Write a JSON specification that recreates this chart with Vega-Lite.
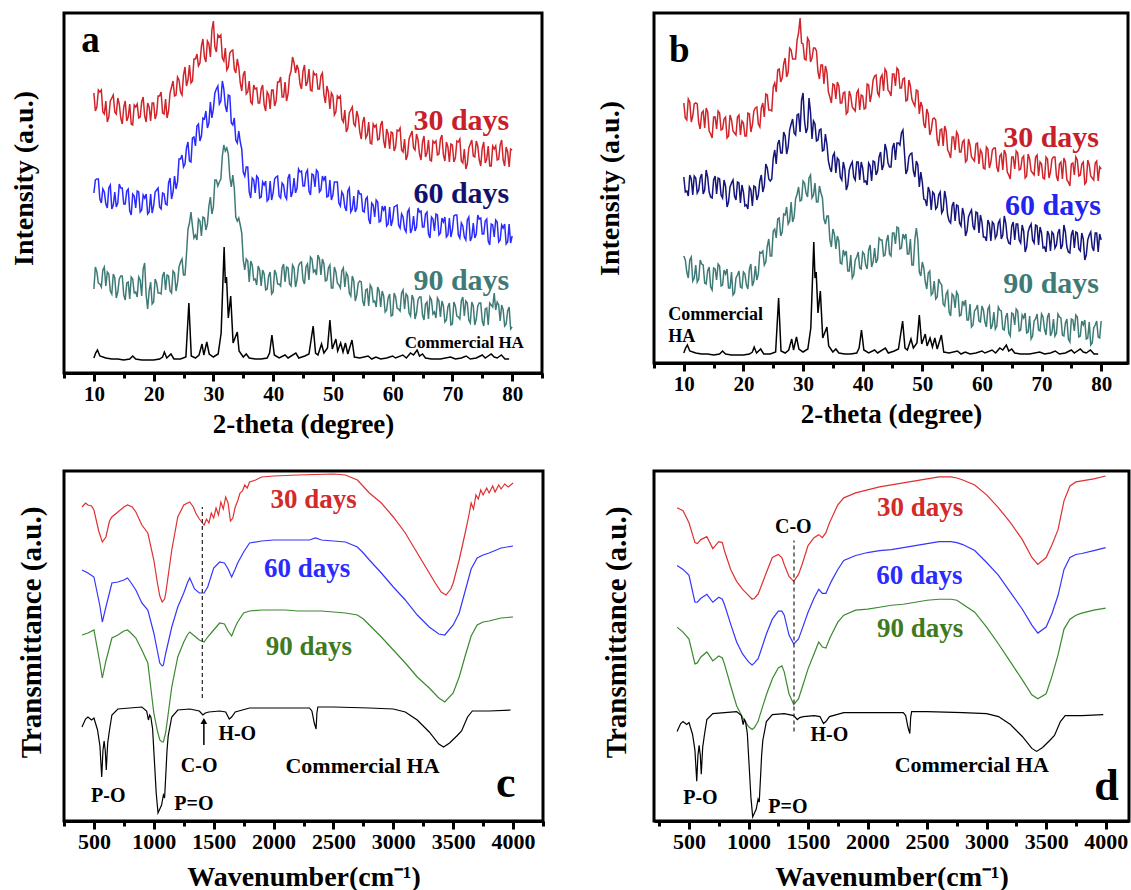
{
"$schema":"https://vega.github.io/schema/vega-lite/v6.json",
"background":"white",
"padding":{"left":8,"top":11,"right":0,"bottom":0},
"config":{"view":{"stroke":"black","strokeWidth":3},
"axis":{"grid":false,"labelFont":"Liberation Serif","titleFont":"Liberation Serif","labelFontWeight":"bold","titleFontWeight":"bold","labelColor":"black","titleColor":"black","domainColor":"black","tickColor":"black"},
"text":{"font":"Liberation Serif","fontWeight":"bold"}},
"datasets":{
"xrd":[
{"x":10,"a3":280,"a6":180,"a9":84,"b3":265,"b6":191,"b9":112},
{"x":10.5,"a3":266,"a6":194,"a9":101,"b3":248,"b6":177,"b9":96},
{"x":11,"a3":281,"a6":174,"a9":89,"b3":266,"b6":193,"b9":108},
{"x":11.5,"a3":261,"a6":184,"a9":103,"b3":252,"b6":173,"b9":87},
{"x":12,"a3":272,"a6":169,"a9":87,"b3":265,"b6":190,"b9":103},
{"x":12.5,"a3":256,"a6":185,"a9":99,"b3":245,"b6":178,"b9":89},
{"x":13,"a3":275,"a6":164,"a9":79,"b3":255,"b6":194,"b9":104},
{"x":13.5,"a3":261,"a6":181,"a9":95,"b3":240,"b6":178,"b9":85},
{"x":14,"a3":275,"a6":170,"a9":81,"b3":256,"b6":191,"b9":97},
{"x":14.5,"a3":255,"a6":185,"a9":97,"b3":234,"b6":171,"b9":81},
{"x":15,"a3":266,"a6":169,"a9":78,"b3":251,"b6":188,"b9":100},
{"x":15.5,"a3":252,"a6":182,"a9":90,"b3":239,"b6":174,"b9":88},
{"x":16,"a3":269,"a6":162,"a9":74,"b3":255,"b6":189,"b9":102},
{"x":16.5,"a3":248,"a6":179,"a9":94,"b3":239,"b6":170,"b9":83},
{"x":17,"a3":266,"a6":165,"a9":81,"b3":251,"b6":182,"b9":94},
{"x":17.5,"a3":255,"a6":181,"a9":96,"b3":232,"b6":166,"b9":80},
{"x":18,"a3":271,"a6":163,"a9":77,"b3":248,"b6":185,"b9":96},
{"x":18.5,"a3":257,"a6":175,"a9":110,"b3":235,"b6":172,"b9":75},
{"x":19,"a3":270,"a6":159,"a9":64,"b3":251,"b6":186,"b9":93},
{"x":19.5,"a3":252,"a6":179,"a9":91,"b3":233,"b6":165,"b9":81},
{"x":20,"a3":270,"a6":167,"a9":71,"b3":245,"b6":176,"b9":96},
{"x":20.5,"a3":259,"a6":183,"a9":90,"b3":232,"b6":163,"b9":83},
{"x":21,"a3":277,"a6":166,"a9":80,"b3":254,"b6":181,"b9":99},
{"x":21.5,"a3":260,"a6":180,"a9":97,"b3":243,"b6":162,"b9":82},
{"x":22,"a3":274,"a6":169,"a9":83,"b3":260,"b6":181,"b9":102},
{"x":22.5,"a3":262,"a6":190,"a9":97,"b3":244,"b6":173,"b9":94},
{"x":23,"a3":286,"a6":174,"a9":80,"b3":260,"b6":193,"b9":115},
{"x":23.5,"a3":277,"a6":197,"a9":100,"b3":251,"b6":182,"b9":103},
{"x":24,"a3":296,"a6":191,"a9":90,"b3":273,"b6":200,"b9":122},
{"x":24.5,"a3":281,"a6":214,"a9":111,"b3":258,"b6":187,"b9":112},
{"x":25,"a3":298,"a6":206,"a9":98,"b3":281,"b6":210,"b9":137},
{"x":25.5,"a3":287,"a6":225,"a9":119,"b3":276,"b6":204,"b9":130},
{"x":26,"a3":308,"a6":212,"a9":150,"b3":299,"b6":228,"b9":150},
{"x":26.5,"a3":292,"a6":235,"a9":147,"b3":290,"b6":215,"b9":136},
{"x":27,"a3":314,"a6":227,"a9":138,"b3":310,"b6":232,"b9":153},
{"x":27.5,"a3":307,"a6":249,"a9":154,"b3":296,"b6":221,"b9":144},
{"x":28,"a3":327,"a6":237,"a9":137,"b3":318,"b6":244,"b9":166},
{"x":28.5,"a3":316,"a6":254,"a9":155,"b3":309,"b6":235,"b9":151},
{"x":29,"a3":332,"a6":245,"a9":149,"b3":328,"b6":253,"b9":174},
{"x":29.5,"a3":316,"a6":271,"a9":176,"b3":350,"b6":236,"b9":167},
{"x":30,"a3":352,"a6":264,"a9":166,"b3":324,"b6":275,"b9":187},
{"x":30.5,"a3":321,"a6":284,"a9":193,"b3":308,"b6":235,"b9":175},
{"x":31,"a3":336,"a6":269,"a9":191,"b3":327,"b6":270,"b9":190},
{"x":31.5,"a3":315,"a6":292,"a9":217,"b3":310,"b6":229,"b9":170},
{"x":32,"a3":325,"a6":267,"a9":222,"b3":320,"b6":244,"b9":185},
{"x":32.5,"a3":306,"a6":278,"a9":219,"b3":296,"b6":228,"b9":166},
{"x":33,"a3":322,"a6":250,"a9":186,"b3":303,"b6":239,"b9":175},
{"x":33.5,"a3":304,"a6":255,"a9":185,"b3":284,"b6":218,"b9":149},
{"x":34,"a3":314,"a6":230,"a9":152,"b3":296,"b6":224,"b9":152},
{"x":34.5,"a3":290,"a6":231,"a9":148,"b3":271,"b6":200,"b9":128},
{"x":35,"a3":298,"a6":201,"a9":113,"b3":284,"b6":212,"b9":139},
{"x":35.5,"a3":279,"a6":206,"a9":114,"b3":269,"b6":195,"b9":119},
{"x":36,"a3":292,"a6":181,"a9":91,"b3":282,"b6":208,"b9":127},
{"x":36.5,"a3":269,"a6":195,"a9":108,"b3":265,"b6":188,"b9":104},
{"x":37,"a3":284,"a6":180,"a9":94,"b3":276,"b6":199,"b9":113},
{"x":37.5,"a3":270,"a6":195,"a9":107,"b3":256,"b6":183,"b9":97},
{"x":38,"a3":284,"a6":176,"a9":87,"b3":272,"b6":203,"b9":113},
{"x":38.5,"a3":268,"a6":188,"a9":99,"b3":259,"b6":191,"b9":93},
{"x":39,"a3":281,"a6":172,"a9":84,"b3":275,"b6":206,"b9":111},
{"x":39.5,"a3":264,"a6":192,"a9":101,"b3":258,"b6":188,"b9":100},
{"x":40,"a3":283,"a6":180,"a9":81,"b3":272,"b6":200,"b9":116},
{"x":40.5,"a3":272,"a6":196,"a9":99,"b3":260,"b6":187,"b9":103},
{"x":41,"a3":291,"a6":177,"a9":89,"b3":283,"b6":205,"b9":118},
{"x":41.5,"a3":276,"a6":190,"a9":105,"b3":274,"b6":187,"b9":101},
{"x":42,"a3":291,"a6":177,"a9":91,"b3":292,"b6":206,"b9":120},
{"x":42.5,"a3":279,"a6":195,"a9":105,"b3":275,"b6":197,"b9":109},
{"x":43,"a3":302,"a6":176,"a9":87,"b3":290,"b6":216,"b9":128},
{"x":43.5,"a3":310,"a6":195,"a9":105,"b3":277,"b6":203,"b9":112},
{"x":44,"a3":308,"a6":185,"a9":93,"b3":296,"b6":218,"b9":127},
{"x":44.5,"a3":289,"a6":201,"a9":110,"b3":276,"b6":201,"b9":114},
{"x":45,"a3":302,"a6":187,"a9":93,"b3":294,"b6":220,"b9":135},
{"x":45.5,"a3":287,"a6":200,"a9":106,"b3":282,"b6":208,"b9":124},
{"x":46,"a3":304,"a6":182,"a9":93,"b3":298,"b6":225,"b9":140},
{"x":46.5,"a3":282,"a6":199,"a9":114,"b3":280,"b6":235,"b9":120},
{"x":47,"a3":298,"a6":186,"a9":103,"b3":290,"b6":216,"b9":130},
{"x":47.5,"a3":284,"a6":201,"a9":118,"b3":268,"b6":198,"b9":114},
{"x":48,"a3":297,"a6":183,"a9":98,"b3":282,"b6":214,"b9":129},
{"x":48.5,"a3":278,"a6":193,"a9":109,"b3":265,"b6":197,"b9":103},
{"x":49,"a3":287,"a6":176,"a9":93,"b3":278,"b6":207,"b9":140},
{"x":49.5,"a3":264,"a6":193,"a9":108,"b3":254,"b6":181,"b9":96},
{"x":50,"a3":277,"a6":178,"a9":85,"b3":261,"b6":186,"b9":106},
{"x":50.5,"a3":261,"a6":191,"a9":101,"b3":240,"b6":168,"b9":86},
{"x":51,"a3":275,"a6":170,"a9":88,"b3":254,"b6":181,"b9":95},
{"x":51.5,"a3":254,"a6":181,"a9":102,"b3":238,"b6":158,"b9":73},
{"x":52,"a3":263,"a6":166,"a9":86,"b3":250,"b6":174,"b9":87},
{"x":52.5,"a3":245,"a6":182,"a9":97,"b3":228,"b6":161,"b9":71},
{"x":53,"a3":263,"a6":161,"a9":77,"b3":238,"b6":176,"b9":85},
{"x":53.5,"a3":249,"a6":177,"a9":92,"b3":222,"b6":158,"b9":64},
{"x":54,"a3":262,"a6":165,"a9":78,"b3":237,"b6":169,"b9":74},
{"x":54.5,"a3":241,"a6":179,"a9":92,"b3":215,"b6":147,"b9":56},
{"x":55,"a3":251,"a6":162,"a9":72,"b3":231,"b6":162,"b9":74},
{"x":55.5,"a3":235,"a6":174,"a9":83,"b3":218,"b6":147,"b9":60},
{"x":56,"a3":251,"a6":154,"a9":67,"b3":233,"b6":162,"b9":73},
{"x":56.5,"a3":229,"a6":170,"a9":85,"b3":216,"b6":142,"b9":53},
{"x":57,"a3":246,"a6":156,"a9":72,"b3":228,"b6":153,"b9":63},
{"x":57.5,"a3":233,"a6":171,"a9":86,"b3":208,"b6":137,"b9":48},
{"x":58,"a3":248,"a6":152,"a9":66,"b3":223,"b6":155,"b9":64},
{"x":58.5,"a3":232,"a6":163,"a9":77,"b3":209,"b6":142,"b9":43},
{"x":59,"a3":244,"a6":147,"a9":63,"b3":224,"b6":156,"b9":59},
{"x":59.5,"a3":224,"a6":166,"a9":79,"b3":204,"b6":135,"b9":47},
{"x":60,"a3":240,"a6":153,"a9":58,"b3":215,"b6":146,"b9":62},
{"x":60.5,"a3":226,"a6":167,"a9":76,"b3":199,"b6":131,"b9":46},
{"x":61,"a3":242,"a6":148,"a9":64,"b3":219,"b6":148,"b9":59},
{"x":61.5,"a3":223,"a6":159,"a9":80,"b3":206,"b6":127,"b9":39},
{"x":62,"a3":234,"a6":144,"a9":64,"b3":220,"b6":144,"b9":56},
{"x":62.5,"a3":218,"a6":161,"a9":77,"b3":201,"b6":133,"b9":42},
{"x":63,"a3":238,"a6":140,"a9":57,"b3":212,"b6":148,"b9":58},
{"x":63.5,"a3":225,"a6":157,"a9":74,"b3":198,"b6":133,"b9":39},
{"x":64,"a3":239,"a6":146,"a9":60,"b3":214,"b6":145,"b9":51},
{"x":64.5,"a3":219,"a6":161,"a9":76,"b3":193,"b6":125,"b9":35},
{"x":65,"a3":231,"a6":146,"a9":58,"b3":211,"b6":142,"b9":55},
{"x":65.5,"a3":216,"a6":159,"a9":69,"b3":199,"b6":128,"b9":43},
{"x":66,"a3":233,"a6":139,"a9":54,"b3":215,"b6":144,"b9":57},
{"x":66.5,"a3":212,"a6":156,"a9":73,"b3":199,"b6":125,"b9":38},
{"x":67,"a3":230,"a6":142,"a9":61,"b3":212,"b6":137,"b9":50},
{"x":67.5,"a3":218,"a6":158,"a9":75,"b3":192,"b6":121,"b9":35},
{"x":68,"a3":234,"a6":140,"a9":56,"b3":209,"b6":141,"b9":52},
{"x":68.5,"a3":218,"a6":151,"a9":67,"b3":195,"b6":128,"b9":32},
{"x":69,"a3":231,"a6":136,"a9":53,"b3":211,"b6":143,"b9":49},
{"x":69.5,"a3":211,"a6":155,"a9":70,"b3":192,"b6":123,"b9":38},
{"x":70,"a3":228,"a6":143,"a9":49,"b3":204,"b6":135,"b9":54},
{"x":70.5,"a3":215,"a6":158,"a9":67,"b3":189,"b6":121,"b9":39},
{"x":71,"a3":231,"a6":138,"a9":56,"b3":209,"b6":137,"b9":51},
{"x":71.5,"a3":212,"a6":150,"a9":72,"b3":196,"b6":117,"b9":32},
{"x":72,"a3":224,"a6":136,"a9":57,"b3":211,"b6":134,"b9":49},
{"x":72.5,"a3":209,"a6":153,"a9":70,"b3":192,"b6":123,"b9":35},
{"x":73,"a3":229,"a6":132,"a9":50,"b3":204,"b6":139,"b9":51},
{"x":73.5,"a3":217,"a6":150,"a9":67,"b3":189,"b6":123,"b9":33},
{"x":74,"a3":232,"a6":139,"a9":54,"b3":206,"b6":136,"b9":45},
{"x":74.5,"a3":213,"a6":154,"a9":70,"b3":186,"b6":116,"b9":29},
{"x":75,"a3":225,"a6":139,"a9":52,"b3":204,"b6":133,"b9":49},
{"x":75.5,"a3":210,"a6":152,"a9":64,"b3":193,"b6":120,"b9":37},
{"x":76,"a3":227,"a6":132,"a9":48,"b3":208,"b6":135,"b9":51},
{"x":76.5,"a3":207,"a6":149,"a9":68,"b3":193,"b6":117,"b9":32},
{"x":77,"a3":224,"a6":136,"a9":80,"b3":206,"b6":129,"b9":43},
{"x":77.5,"a3":213,"a6":151,"a9":71,"b3":186,"b6":113,"b9":29},
{"x":78,"a3":228,"a6":133,"a9":52,"b3":203,"b6":133,"b9":46},
{"x":78.5,"a3":213,"a6":145,"a9":63,"b3":190,"b6":121,"b9":25},
{"x":79,"a3":226,"a6":129,"a9":49,"b3":205,"b6":135,"b9":43},
{"x":79.5,"a3":206,"a6":149,"a9":66,"b3":187,"b6":116,"b9":31},
{"x":80,"a3":223,"a6":137,"a9":46,"b3":199,"b6":128,"b9":47},
{"x":10.25,"a3":262,"a6":193,"a9":106,"b3":250,"b6":176,"b9":108},
{"x":10.75,"a3":283,"a6":194,"a9":90,"b3":269,"b6":172,"b9":90},
{"x":11.25,"a3":283,"a6":170,"a9":86,"b3":246,"b6":189,"b9":111},
{"x":11.75,"a3":259,"a6":181,"a9":106,"b3":264,"b6":192,"b9":90},
{"x":12.25,"a3":251,"a6":165,"a9":101,"b3":264,"b6":175,"b9":86},
{"x":12.75,"a3":272,"a6":188,"a9":82,"b3":239,"b6":190,"b9":108},
{"x":13.25,"a3":278,"a6":168,"a9":99,"b3":257,"b6":174,"b9":103},
{"x":13.75,"a3":259,"a6":166,"a9":75,"b3":260,"b6":198,"b9":84},
{"x":14.25,"a3":269,"a6":189,"a9":94,"b3":237,"b6":176,"b9":101},
{"x":14.75,"a3":249,"a6":185,"a9":97,"b3":230,"b6":170,"b9":78},
{"x":15.25,"a3":272,"a6":169,"a9":73,"b3":251,"b6":192,"b9":99},
{"x":15.75,"a3":256,"a6":184,"a9":91,"b3":257,"b6":190,"b9":104},
{"x":16.25,"a3":249,"a6":158,"a9":96,"b3":238,"b6":173,"b9":82},
{"x":16.75,"a3":268,"a6":177,"a9":80,"b3":249,"b6":188,"b9":98},
{"x":17.25,"a3":269,"a6":182,"a9":76,"b3":230,"b6":161,"b9":99},
{"x":17.75,"a3":256,"a6":161,"a9":93,"b3":253,"b6":181,"b9":80},
{"x":18.25,"a3":276,"a6":178,"a9":104,"b3":237,"b6":188,"b9":73},
{"x":18.75,"a3":251,"a6":179,"a9":78,"b3":233,"b6":168,"b9":90},
{"x":19.25,"a3":266,"a6":161,"a9":82,"b3":253,"b6":185,"b9":97},
{"x":19.75,"a3":270,"a6":160,"a9":69,"b3":247,"b6":183,"b9":80},
{"x":20.25,"a3":254,"a6":181,"a9":94,"b3":232,"b6":162,"b9":94},
{"x":20.75,"a3":277,"a6":185,"a9":80,"b3":255,"b6":159,"b9":79},
{"x":21.25,"a3":281,"a6":164,"a9":79,"b3":236,"b6":178,"b9":104},
{"x":21.75,"a3":259,"a6":179,"a9":101,"b3":257,"b6":182,"b9":87},
{"x":22.25,"a3":255,"a6":168,"a9":98,"b3":261,"b6":168,"b9":88},
{"x":22.75,"a3":280,"a6":195,"a9":82,"b3":241,"b6":187,"b9":116},
{"x":23.25,"a3":292,"a6":181,"a9":102,"b3":265,"b6":176,"b9":117},
{"x":23.75,"a3":278,"a6":184,"a9":82,"b3":274,"b6":204,"b9":106},
{"x":24.25,"a3":293,"a6":214,"a9":106,"b3":258,"b6":189,"b9":129},
{"x":24.75,"a3":278,"a6":218,"a9":114,"b3":257,"b6":189,"b9":112},
{"x":25.25,"a3":306,"a6":209,"a9":98,"b3":285,"b6":218,"b9":139},
{"x":25.75,"a3":293,"a6":231,"a9":144,"b3":298,"b6":224,"b9":149},
{"x":26.25,"a3":290,"a6":211,"a9":161,"b3":286,"b6":215,"b9":132},
{"x":26.75,"a3":314,"a6":236,"a9":135,"b3":304,"b6":236,"b9":154},
{"x":27.25,"a3":319,"a6":247,"a9":133,"b3":291,"b6":214,"b9":161},
{"x":27.75,"a3":310,"a6":232,"a9":152,"b3":320,"b6":238,"b9":147},
{"x":28.25,"a3":334,"a6":255,"a9":156,"b3":309,"b6":249,"b9":146},
{"x":28.75,"a3":311,"a6":262,"a9":143,"b3":309,"b6":233,"b9":169},
{"x":29.25,"a3":329,"a6":250,"a9":167,"b3":335,"b6":254,"b9":181},
{"x":29.75,"a3":343,"a6":255,"a9":159,"b3":325,"b6":268,"b9":168},
{"x":30.25,"a3":326,"a6":280,"a9":193,"b3":309,"b6":247,"b9":185},
{"x":30.75,"a3":338,"a6":287,"a9":187,"b3":330,"b6":240,"b9":171},
{"x":31.25,"a3":338,"a6":272,"a9":194,"b3":306,"b6":256,"b9":193},
{"x":31.75,"a3":312,"a6":284,"a9":228,"b3":320,"b6":247,"b9":173},
{"x":32.25,"a3":303,"a6":261,"a9":225,"b3":317,"b6":227,"b9":166},
{"x":32.75,"a3":320,"a6":277,"a9":196,"b3":289,"b6":238,"b9":182},
{"x":33.25,"a3":323,"a6":248,"a9":198,"b3":303,"b6":217,"b9":170},
{"x":33.75,"a3":300,"a6":233,"a9":156,"b3":302,"b6":234,"b9":144},
{"x":34.25,"a3":306,"a6":242,"a9":155,"b3":276,"b6":207,"b9":152},
{"x":34.75,"a3":282,"a6":224,"a9":140,"b3":265,"b6":196,"b9":121},
{"x":35.25,"a3":302,"a6":197,"a9":103,"b3":283,"b6":215,"b9":134},
{"x":35.75,"a3":281,"a6":206,"a9":112,"b3":286,"b6":210,"b9":132},
{"x":36.25,"a3":271,"a6":175,"a9":112,"b3":265,"b6":191,"b9":105},
{"x":36.75,"a3":288,"a6":193,"a9":93,"b3":275,"b6":206,"b9":118},
{"x":37.25,"a3":285,"a6":197,"a9":88,"b3":254,"b6":178,"b9":117},
{"x":37.75,"a3":270,"a6":175,"a9":103,"b3":277,"b6":198,"b9":97},
{"x":38.25,"a3":288,"a6":191,"a9":103,"b3":261,"b6":206,"b9":90},
{"x":38.75,"a3":262,"a6":192,"a9":83,"b3":257,"b6":188,"b9":108},
{"x":39.25,"a3":278,"a6":174,"a9":97,"b3":278,"b6":206,"b9":116},
{"x":39.75,"a3":283,"a6":173,"a9":79,"b3":273,"b6":206,"b9":99},
{"x":40.25,"a3":267,"a6":194,"a9":103,"b3":259,"b6":186,"b9":114},
{"x":40.75,"a3":291,"a6":197,"a9":89,"b3":284,"b6":183,"b9":99},
{"x":41.25,"a3":296,"a6":175,"a9":87,"b3":266,"b6":202,"b9":123},
{"x":41.75,"a3":276,"a6":188,"a9":109,"b3":288,"b6":207,"b9":106},
{"x":42.25,"a3":272,"a6":174,"a9":106,"b3":293,"b6":193,"b9":105},
{"x":42.75,"a3":297,"a6":199,"a9":89,"b3":272,"b6":211,"b9":130},
{"x":43.25,"a3":316,"a6":181,"a9":108,"b3":293,"b6":198,"b9":128},
{"x":43.75,"a3":300,"a6":180,"a9":86,"b3":299,"b6":224,"b9":113},
{"x":44.25,"a3":303,"a6":204,"a9":107,"b3":278,"b6":205,"b9":133},
{"x":44.75,"a3":284,"a6":202,"a9":111,"b3":272,"b6":201,"b9":112},
{"x":45.25,"a3":308,"a6":187,"a9":89,"b3":294,"b6":225,"b9":135},
{"x":45.75,"a3":291,"a6":203,"a9":109,"b3":300,"b6":225,"b9":141},
{"x":46.25,"a3":283,"a6":178,"a9":116,"b3":280,"b6":223,"b9":119},
{"x":46.75,"a3":301,"a6":198,"a9":101,"b3":289,"b6":238,"b9":134},
{"x":47.25,"a3":299,"a6":203,"a9":98,"b3":267,"b6":194,"b9":134},
{"x":47.75,"a3":284,"a6":181,"a9":114,"b3":288,"b6":211,"b9":114},
{"x":48.25,"a3":300,"a6":197,"a9":114,"b3":269,"b6":215,"b9":103},
{"x":48.75,"a3":270,"a6":197,"a9":92,"b3":262,"b6":191,"b9":128},
{"x":49.25,"a3":281,"a6":177,"a9":105,"b3":277,"b6":203,"b9":128},
{"x":49.75,"a3":280,"a6":173,"a9":85,"b3":266,"b6":196,"b9":92},
{"x":50.25,"a3":258,"a6":191,"a9":106,"b3":244,"b6":169,"b9":100},
{"x":50.75,"a3":277,"a6":191,"a9":90,"b3":259,"b6":162,"b9":79},
{"x":51.25,"a3":277,"a6":167,"a9":85,"b3":233,"b6":176,"b9":97},
{"x":51.75,"a3":251,"a6":178,"a9":105,"b3":249,"b6":176,"b9":75},
{"x":52.25,"a3":241,"a6":162,"a9":100,"b3":248,"b6":159,"b9":69},
{"x":52.75,"a3":260,"a6":185,"a9":80,"b3":222,"b6":173,"b9":89},
{"x":53.25,"a3":266,"a6":164,"a9":97,"b3":239,"b6":155,"b9":83},
{"x":53.75,"a3":247,"a6":161,"a9":72,"b3":242,"b6":177,"b9":62},
{"x":54.25,"a3":256,"a6":183,"a9":90,"b3":218,"b6":153,"b9":77},
{"x":54.75,"a3":234,"a6":179,"a9":91,"b3":210,"b6":145,"b9":52},
{"x":55.25,"a3":256,"a6":161,"a9":67,"b3":231,"b6":166,"b9":72},
{"x":55.75,"a3":238,"a6":176,"a9":84,"b3":236,"b6":163,"b9":76},
{"x":56.25,"a3":230,"a6":149,"a9":88,"b3":216,"b6":145,"b9":52},
{"x":56.75,"a3":249,"a6":168,"a9":71,"b3":226,"b6":160,"b9":67},
{"x":57.25,"a3":248,"a6":173,"a9":66,"b3":206,"b6":132,"b9":68},
{"x":57.75,"a3":234,"a6":151,"a9":82,"b3":229,"b6":151,"b9":48},
{"x":58.25,"a3":252,"a6":167,"a9":82,"b3":211,"b6":158,"b9":41},
{"x":58.75,"a3":225,"a6":167,"a9":61,"b3":207,"b6":138,"b9":57},
{"x":59.25,"a3":239,"a6":149,"a9":75,"b3":225,"b6":155,"b9":63},
{"x":59.75,"a3":241,"a6":147,"a9":57,"b3":218,"b6":153,"b9":46},
{"x":60.25,"a3":222,"a6":166,"a9":80,"b3":200,"b6":131,"b9":58},
{"x":60.75,"a3":243,"a6":168,"a9":65,"b3":221,"b6":127,"b9":41},
{"x":61.25,"a3":245,"a6":145,"a9":62,"b3":200,"b6":144,"b9":62},
{"x":61.75,"a3":221,"a6":156,"a9":83,"b3":218,"b6":146,"b9":43},
{"x":62.25,"a3":213,"a6":141,"a9":79,"b3":220,"b6":130,"b9":39},
{"x":62.75,"a3":234,"a6":164,"a9":60,"b3":196,"b6":145,"b9":61},
{"x":63.25,"a3":242,"a6":144,"a9":78,"b3":214,"b6":129,"b9":57},
{"x":63.75,"a3":223,"a6":142,"a9":54,"b3":218,"b6":152,"b9":38},
{"x":64.25,"a3":233,"a6":165,"a9":73,"b3":196,"b6":130,"b9":55},
{"x":64.75,"a3":213,"a6":162,"a9":76,"b3":189,"b6":124,"b9":32},
{"x":65.25,"a3":237,"a6":146,"a9":53,"b3":211,"b6":146,"b9":54},
{"x":65.75,"a3":220,"a6":161,"a9":71,"b3":217,"b6":144,"b9":59},
{"x":66.25,"a3":213,"a6":135,"a9":76,"b3":198,"b6":128,"b9":37},
{"x":66.75,"a3":232,"a6":154,"a9":59,"b3":210,"b6":143,"b9":53},
{"x":67.25,"a3":232,"a6":159,"a9":55,"b3":190,"b6":116,"b9":55},
{"x":67.75,"a3":219,"a6":138,"a9":72,"b3":214,"b6":136,"b9":36},
{"x":68.25,"a3":238,"a6":155,"a9":72,"b3":197,"b6":144,"b9":29},
{"x":68.75,"a3":212,"a6":156,"a9":51,"b3":193,"b6":125,"b9":47},
{"x":69.25,"a3":226,"a6":138,"a9":66,"b3":213,"b6":142,"b9":54},
{"x":69.75,"a3":229,"a6":136,"a9":48,"b3":206,"b6":141,"b9":37},
{"x":70.25,"a3":211,"a6":157,"a9":71,"b3":190,"b6":120,"b9":51},
{"x":70.75,"a3":232,"a6":158,"a9":57,"b3":211,"b6":116,"b9":33},
{"x":71.25,"a3":234,"a6":135,"a9":54,"b3":190,"b6":133,"b9":55},
{"x":71.75,"a3":210,"a6":147,"a9":76,"b3":209,"b6":136,"b9":36},
{"x":72.25,"a3":204,"a6":133,"a9":72,"b3":211,"b6":120,"b9":32},
{"x":72.75,"a3":225,"a6":156,"a9":53,"b3":187,"b6":135,"b9":54},
{"x":73.25,"a3":233,"a6":136,"a9":71,"b3":206,"b6":119,"b9":50},
{"x":73.75,"a3":216,"a6":135,"a9":48,"b3":210,"b6":143,"b9":32},
{"x":74.25,"a3":227,"a6":158,"a9":67,"b3":188,"b6":121,"b9":49},
{"x":74.75,"a3":207,"a6":155,"a9":70,"b3":182,"b6":115,"b9":26},
{"x":75.25,"a3":231,"a6":139,"a9":47,"b3":205,"b6":138,"b9":48},
{"x":75.75,"a3":214,"a6":154,"a9":65,"b3":211,"b6":136,"b9":53},
{"x":76.25,"a3":207,"a6":128,"a9":70,"b3":192,"b6":119,"b9":31},
{"x":76.75,"a3":227,"a6":148,"a9":66,"b3":204,"b6":135,"b9":47},
{"x":77.25,"a3":227,"a6":153,"a9":63,"b3":184,"b6":108,"b9":48},
{"x":77.75,"a3":214,"a6":131,"a9":68,"b3":208,"b6":128,"b9":30},
{"x":78.25,"a3":233,"a6":148,"a9":68,"b3":192,"b6":136,"b9":23},
{"x":78.75,"a3":207,"a6":149,"a9":47,"b3":188,"b6":117,"b9":40},
{"x":79.25,"a3":221,"a6":131,"a9":62,"b3":207,"b6":135,"b9":47},
{"x":79.75,"a3":224,"a6":130,"a9":44,"b3":201,"b6":134,"b9":30}
],
"xha":[
{"x":10,"y":15},{"x":10.3,"y":20},{"x":10.6,"y":23},{"x":11,"y":17},{"x":12,"y":15},{"x":13,"y":14},{"x":14,"y":14},{"x":15,"y":13},{"x":16,"y":14},{"x":16.5,"y":17},{"x":17,"y":14},{"x":18,"y":13},{"x":19,"y":13},{"x":20,"y":13},{"x":21,"y":14},{"x":21.5,"y":16},{"x":21.8,"y":21},{"x":22.2,"y":15},{"x":22.9,"y":19},{"x":23.4,"y":14},{"x":24.5,"y":14},{"x":25.4,"y":16},{"x":25.9,"y":70},{"x":26.3,"y":17},{"x":27,"y":15},{"x":27.6,"y":18},{"x":28.1,"y":29},{"x":28.4,"y":18},{"x":28.9,"y":31},{"x":29.3,"y":19},{"x":30,"y":16},{"x":30.8,"y":19},{"x":31.3,"y":40},{"x":31.8,"y":126},{"x":32.0,"y":90},{"x":32.2,"y":96},{"x":32.5,"y":55},{"x":32.9,"y":77},{"x":33.3,"y":30},{"x":34.0,"y":41},{"x":34.3,"y":22},{"x":35,"y":16},{"x":35.5,"y":19},{"x":36,"y":15},{"x":37,"y":14},{"x":38,"y":14},{"x":39,"y":15},{"x":39.4,"y":20},{"x":39.8,"y":38},{"x":40.2,"y":18},{"x":41,"y":15},{"x":42,"y":18},{"x":42.5,"y":15},{"x":43.8,"y":20},{"x":44.3,"y":15},{"x":45.3,"y":17},{"x":46,"y":19},{"x":46.7,"y":47},{"x":47.1,"y":20},{"x":47.5,"y":18},{"x":48.1,"y":29},{"x":48.5,"y":20},{"x":49.1,"y":25},{"x":49.5,"y":53},{"x":49.9,"y":24},{"x":50.5,"y":34},{"x":50.8,"y":22},{"x":51.3,"y":30},{"x":51.7,"y":21},{"x":52.1,"y":30},{"x":52.5,"y":19},{"x":53.2,"y":33},{"x":53.6,"y":16},{"x":54.5,"y":15},{"x":55.9,"y":17},{"x":56.5,"y":14},{"x":57.2,"y":16},{"x":58,"y":14},{"x":59,"y":15},{"x":60,"y":17},{"x":60.5,"y":15},{"x":61.7,"y":18},{"x":62.3,"y":15},{"x":63,"y":20},{"x":63.5,"y":18},{"x":64.1,"y":23},{"x":64.5,"y":17},{"x":65,"y":19},{"x":65.5,"y":15},{"x":66.5,"y":14},{"x":68,"y":14},{"x":69.7,"y":16},{"x":70.5,"y":14},{"x":71.5,"y":15},{"x":72.3,"y":17},{"x":73,"y":14},{"x":74,"y":15},{"x":75,"y":18},{"x":75.5,"y":15},{"x":76.5,"y":19},{"x":77,"y":16},{"x":77.5,"y":15},{"x":78.2,"y":18},{"x":78.8,"y":14},{"x":79.5,"y":14}
],
"ftir":[
{"x":400,"c6":251,"c9":186,"d3":319,"d6":261,"d9":199},
{"x":450,"c6":248,"c9":188,"d3":316,"d6":257,"d9":194},
{"x":500,"c6":244,"c9":191,"d3":304,"d6":251,"d9":187},
{"x":550,"c6":215,"c9":158,"d3":284,"d6":224,"d9":162},
{"x":570,"c6":199,"c9":143,"d3":283,"d6":224,"d9":163},
{"x":600,"c6":214,"c9":160,"d3":287,"d6":228,"d9":169},
{"x":650,"c6":238,"c9":183,"d3":290,"d6":232,"d9":174},
{"x":700,"c6":239,"c9":186,"d3":278,"d6":224,"d9":165},
{"x":750,"c6":241,"c9":190,"d3":285,"d6":229,"d9":170},
{"x":780,"c6":243,"c9":191,"d3":284,"d6":227,"d9":168},
{"x":800,"c6":240,"c9":189,"d3":275,"d6":221,"d9":161},
{"x":850,"c6":231,"c9":183,"d3":257,"d6":202,"d9":140},
{"x":900,"c6":218,"c9":171,"d3":245,"d6":184,"d9":120},
{"x":950,"c6":211,"c9":158,"d3":237,"d6":172,"d9":108},
{"x":1000,"c6":188,"c9":108,"d3":231,"d6":164,"d9":99},
{"x":1030,"c6":170,"c9":90,"d3":227,"d6":161,"d9":96},
{"x":1050,"c6":158,"c9":81,"d3":228,"d6":163,"d9":98},
{"x":1070,"c6":155,"c9":79,"d3":231,"d6":166,"d9":102},
{"x":1080,"c6":156,"c9":79,"d3":232,"d6":167,"d9":104},
{"x":1100,"c6":168,"c9":89,"d3":238,"d6":174,"d9":112},
{"x":1150,"c6":194,"c9":134,"d3":254,"d6":192,"d9":131},
{"x":1200,"c6":214,"c9":164,"d3":269,"d6":207,"d9":147},
{"x":1250,"c6":228,"c9":179,"d3":272,"d6":215,"d9":158},
{"x":1280,"c6":238,"c9":186,"d3":269,"d6":215,"d9":160},
{"x":1300,"c6":243,"c9":189,"d3":262,"d6":211,"d9":154},
{"x":1340,"c6":232,"c9":185,"d3":250,"d6":191,"d9":132},
{"x":1380,"c6":228,"c9":181,"d3":245,"d6":182,"d9":121},
{"x":1420,"c6":228,"c9":179,"d3":252,"d6":187,"d9":127},
{"x":1450,"c6":234,"c9":184,"d3":262,"d6":197,"d9":138},
{"x":1500,"c6":253,"c9":191,"d3":281,"d6":214,"d9":157},
{"x":1550,"c6":259,"c9":198,"d3":289,"d6":228,"d9":172},
{"x":1590,"c6":258,"c9":197,"d3":292,"d6":237,"d9":184},
{"x":1620,"c6":252,"c9":190,"d3":289,"d6":233,"d9":179},
{"x":1650,"c6":244,"c9":185,"d3":294,"d6":233,"d9":178},
{"x":1680,"c6":252,"c9":194,"d3":304,"d6":241,"d9":187},
{"x":1700,"c6":258,"c9":199,"d3":309,"d6":246,"d9":192},
{"x":1750,"c6":269,"c9":208,"d3":322,"d6":257,"d9":204},
{"x":1800,"c6":278,"c9":210,"d3":329,"d6":266,"d9":211},
{"x":1900,"c6":280,"c9":211,"d3":334,"d6":271,"d9":216},
{"x":2000,"c6":281,"c9":211,"d3":337,"d6":274,"d9":217},
{"x":2100,"c6":281,"c9":211,"d3":340,"d6":276,"d9":219},
{"x":2200,"c6":281,"c9":210,"d3":342,"d6":277,"d9":221},
{"x":2300,"c6":281,"c9":210,"d3":344,"d6":279,"d9":222},
{"x":2350,"c6":283,"c9":210,"d3":345,"d6":280,"d9":223},
{"x":2400,"c6":281,"c9":210,"d3":346,"d6":281,"d9":224},
{"x":2500,"c6":280,"c9":209,"d3":348,"d6":283,"d9":226},
{"x":2600,"c6":279,"c9":208,"d3":350,"d6":285,"d9":227},
{"x":2700,"c6":274,"c9":206,"d3":350,"d6":285,"d9":227},
{"x":2750,"c6":268,"c9":202,"d3":349,"d6":284,"d9":226},
{"x":2800,"c6":261,"c9":196,"d3":347,"d6":282,"d9":222},
{"x":2900,"c6":248,"c9":184,"d3":342,"d6":276,"d9":214},
{"x":3000,"c6":234,"c9":171,"d3":332,"d6":264,"d9":199},
{"x":3100,"c6":221,"c9":158,"d3":319,"d6":251,"d9":182},
{"x":3200,"c6":206,"c9":144,"d3":304,"d6":234,"d9":164},
{"x":3300,"c6":194,"c9":133,"d3":287,"d6":217,"d9":146},
{"x":3380,"c6":187,"c9":123,"d3":269,"d6":201,"d9":131},
{"x":3430,"c6":186,"c9":119,"d3":262,"d6":193,"d9":127},
{"x":3500,"c6":196,"c9":128,"d3":269,"d6":199,"d9":132},
{"x":3550,"c6":208,"c9":144,"d3":282,"d6":213,"d9":150},
{"x":3600,"c6":230,"c9":165,"d3":297,"d6":231,"d9":171},
{"x":3650,"c6":252,"c9":185,"d3":326,"d6":257,"d9":197},
{"x":3700,"c6":263,"c9":196,"d3":341,"d6":269,"d9":207},
{"x":3750,"c6":266,"c9":199,"d3":345,"d6":272,"d9":211},
{"x":3800,"c6":268,"c9":200,"d3":346,"d6":273,"d9":213},
{"x":3900,"c6":273,"c9":203,"d3":348,"d6":276,"d9":216},
{"x":4000,"c6":275,"c9":204,"d3":351,"d6":279,"d9":218}
],
"fc3":[
{"x":400,"y":314},{"x":430,"y":318},{"x":450,"y":316},{"x":480,"y":315},{"x":500,"y":311},{"x":540,"y":290},{"x":570,"y":279},{"x":600,"y":284},{"x":630,"y":300},{"x":650,"y":304},{"x":700,"y":309},{"x":750,"y":314},{"x":780,"y":316},{"x":820,"y":314},{"x":850,"y":309},{"x":900,"y":296},{"x":950,"y":288},{"x":1000,"y":261},{"x":1030,"y":238},{"x":1050,"y":225},{"x":1070,"y":219},{"x":1090,"y":222},{"x":1100,"y":228},{"x":1150,"y":271},{"x":1200,"y":304},{"x":1250,"y":316},{"x":1300,"y":319},{"x":1330,"y":314},{"x":1350,"y":308},{"x":1380,"y":302},{"x":1400,"y":299},{"x":1420,"y":296},{"x":1440,"y":302},{"x":1460,"y":298},{"x":1480,"y":308},{"x":1500,"y":303},{"x":1520,"y":313},{"x":1540,"y":306},{"x":1560,"y":319},{"x":1580,"y":312},{"x":1600,"y":324},{"x":1620,"y":318},{"x":1640,"y":300},{"x":1660,"y":303},{"x":1680,"y":314},{"x":1700,"y":320},{"x":1720,"y":328},{"x":1740,"y":330},{"x":1760,"y":336},{"x":1780,"y":333},{"x":1800,"y":339},{"x":1850,"y":341},{"x":1900,"y":344},{"x":2000,"y":345},{"x":2200,"y":346},{"x":2500,"y":347},{"x":2600,"y":346},{"x":2700,"y":341},{"x":2800,"y":328},{"x":2900,"y":318},{"x":3000,"y":304},{"x":3100,"y":288},{"x":3200,"y":268},{"x":3300,"y":248},{"x":3350,"y":238},{"x":3400,"y":229},{"x":3440,"y":226},{"x":3480,"y":232},{"x":3500,"y":238},{"x":3550,"y":261},{"x":3600,"y":288},{"x":3630,"y":305},{"x":3650,"y":318},{"x":3670,"y":312},{"x":3690,"y":326},{"x":3710,"y":322},{"x":3730,"y":331},{"x":3750,"y":326},{"x":3780,"y":333},{"x":3800,"y":328},{"x":3830,"y":335},{"x":3850,"y":329},{"x":3880,"y":336},{"x":3900,"y":332},{"x":3930,"y":337},{"x":3960,"y":334},{"x":4000,"y":338}
],
"fha":[
{"x":400,"y":94},{"x":430,"y":102},{"x":450,"y":104},{"x":480,"y":101},{"x":500,"y":103},{"x":530,"y":91},{"x":550,"y":75},{"x":565,"y":44},{"x":575,"y":70},{"x":585,"y":80},{"x":595,"y":70},{"x":603,"y":51},{"x":615,"y":78},{"x":630,"y":91},{"x":650,"y":106},{"x":700,"y":112},{"x":800,"y":113},{"x":900,"y":114},{"x":940,"y":110},{"x":955,"y":101},{"x":965,"y":106},{"x":975,"y":104},{"x":990,"y":92},{"x":1005,"y":60},{"x":1020,"y":28},{"x":1035,"y":8},{"x":1050,"y":12},{"x":1065,"y":16},{"x":1080,"y":26},{"x":1090,"y":23},{"x":1100,"y":46},{"x":1110,"y":70},{"x":1120,"y":85},{"x":1150,"y":104},{"x":1200,"y":111},{"x":1300,"y":112},{"x":1380,"y":110},{"x":1410,"y":106},{"x":1430,"y":108},{"x":1460,"y":109},{"x":1550,"y":110},{"x":1600,"y":109},{"x":1630,"y":102},{"x":1650,"y":104},{"x":1680,"y":109},{"x":1800,"y":113},{"x":2000,"y":113},{"x":2300,"y":113},{"x":2320,"y":110},{"x":2340,"y":98},{"x":2355,"y":92},{"x":2362,"y":108},{"x":2370,"y":114},{"x":2500,"y":114},{"x":2800,"y":113},{"x":3000,"y":112},{"x":3100,"y":109},{"x":3200,"y":101},{"x":3300,"y":89},{"x":3380,"y":77},{"x":3420,"y":74},{"x":3470,"y":78},{"x":3530,"y":85},{"x":3570,"y":90},{"x":3620,"y":104},{"x":3660,"y":110},{"x":3800,"y":110},{"x":3980,"y":111}
],
"lab":[
{"p":"a","k":"d","t":"30 days","x":71.5,"y":243},
{"p":"a","k":"d","t":"60 days","x":71.5,"y":170},
{"p":"a","k":"d","t":"90 days","x":71.5,"y":83},
{"p":"a","k":"L","t":"a","x":7.9,"y":321},
{"p":"a","k":"s","t":"Commercial HA","x":72,"y":25},
{"p":"b","k":"d","t":"30 days","x":71.6,"y":221},
{"p":"b","k":"d","t":"60 days","x":71.9,"y":153},
{"p":"b","k":"d","t":"90 days","x":71.6,"y":75},
{"p":"b","k":"L","t":"b","x":7.5,"y":306},
{"p":"b","k":"s2","t":"Commercial","x":7.4,"y":48},
{"p":"b","k":"s2","t":"HA","x":7.4,"y":26},
{"p":"c","k":"d","t":"30 days","x":2334,"y":313},
{"p":"c","k":"d","t":"60 days","x":2280,"y":244},
{"p":"c","k":"d","t":"90 days","x":2295,"y":166},
{"p":"c","k":"m","t":"H-O","x":1697,"y":81},
{"p":"c","k":"m","t":"C-O","x":1379,"y":49},
{"p":"c","k":"m","t":"P-O","x":620,"y":19},
{"p":"c","k":"m","t":"P=O","x":1335,"y":11},
{"p":"c","k":"h","t":"Commercial HA","x":2743,"y":48},
{"p":"c","k":"L2","t":"c","x":3940,"y":24},
{"p":"d","k":"d","t":"30 days","x":2441,"y":311},
{"p":"d","k":"d","t":"60 days","x":2435,"y":242},
{"p":"d","k":"d","t":"90 days","x":2441,"y":189},
{"p":"d","k":"m","t":"C-O","x":1376,"y":294},
{"p":"d","k":"m","t":"H-O","x":1679,"y":84},
{"p":"d","k":"m","t":"P-O","x":596,"y":21},
{"p":"d","k":"m","t":"P=O","x":1331,"y":12},
{"p":"d","k":"h","t":"Commercial HA","x":2875,"y":53},
{"p":"d","k":"L2","t":"d","x":4006,"y":25}
],
"ann":[
{"p":"c","k":"dash","x":1405,"y":123,"y2":314},
{"p":"c","k":"arr","x":1418,"y":76,"y2":98},
{"p":"c","k":"head","x":1418,"y":100},
{"p":"d","k":"dash","x":1382,"y":94,"y2":286}
]
},
"columns":2,
"spacing":{"row":98,"column":111},
"bounds":"flush",
"resolve":{"scale":{"color":"independent"}},
"concat":[
{"width":478,"height":360,
"encoding":{
"x":{"field":"x","type":"quantitative","scale":{"domain":[5,85],"nice":false,"zero":false},"axis":{"title":"2-theta (degree)","values":[5,10,15,20,25,30,35,40,45,50,55,60,65,70,75,80,85],"labelExpr":"datum.value % 10 === 0 ? datum.label : ''","tickSize":{"condition":{"test":"datum.value % 10 === 0","value":8},"value":5},"tickWidth":3,"domainWidth":3,"labelFontSize":21,"labelPadding":2,"labelOverlap":false,"labelFlush":false,"titleFontSize":27,"titlePadding":7}},
"y":{"field":"y","type":"quantitative","scale":{"domain":[0,360],"nice":false,"zero":false},"axis":{"title":"Intensity (a.u.)","ticks":false,"labels":false,"domain":false,"titleFontSize":28,"titlePadding":26,"titleY":165}}},
"layer":[
{"data":{"name":"xrd"},"transform":[{"fold":["a3"],"as":["s","y"]}],"mark":{"type":"line","color":"#d0242b","strokeWidth":1.5}},
{"data":{"name":"xrd"},"transform":[{"fold":["a6"],"as":["s","y"]}],"mark":{"type":"line","color":"#2a2aff","strokeWidth":1.5}},
{"data":{"name":"xrd"},"transform":[{"fold":["a9"],"as":["s","y"]}],"mark":{"type":"line","color":"#3f7b76","strokeWidth":1.5}},
{"data":{"name":"xha"},"mark":{"type":"line","color":"black","strokeWidth":1.5}},
{"data":{"name":"lab"},"transform":[{"filter":"datum.p==='a' && datum.k==='d'"}],"mark":{"type":"text","fontSize":30,"align":"center","baseline":"alphabetic"},"encoding":{"text":{"field":"t"},"color":{"field":"t","type":"nominal","scale":{"domain":["30 days","60 days","90 days"],"range":["#c8202a","#12126e","#3f7b76"]},"legend":null}}},
{"data":{"name":"lab"},"transform":[{"filter":"datum.p==='a' && datum.k==='L'"}],"mark":{"type":"text","fontSize":37,"align":"left","baseline":"alphabetic","color":"black"},"encoding":{"text":{"field":"t"}}},
{"data":{"name":"lab"},"transform":[{"filter":"datum.p==='a' && datum.k==='s'"}],"mark":{"type":"text","fontSize":17,"align":"center","baseline":"alphabetic","color":"black"},"encoding":{"text":{"field":"t"}}}
]},
{"width":474,"height":350,
"encoding":{
"x":{"field":"x","type":"quantitative","scale":{"domain":[5,84.5],"nice":false,"zero":false},"axis":{"title":"2-theta (degree)","values":[5,10,15,20,25,30,35,40,45,50,55,60,65,70,75,80],"labelExpr":"datum.value % 10 === 0 ? datum.label : ''","tickSize":{"condition":{"test":"datum.value % 10 === 0","value":8},"value":5},"tickWidth":3,"domainWidth":3,"labelFontSize":21,"labelPadding":2,"labelOverlap":false,"labelFlush":false,"titleFontSize":27,"titlePadding":7}},
"y":{"field":"y","type":"quantitative","scale":{"domain":[5,355],"nice":false,"zero":false},"axis":{"title":"Intensity (a.u.)","ticks":false,"labels":false,"domain":false,"titleFontSize":28,"titlePadding":30}}},
"layer":[
{"data":{"name":"xrd"},"transform":[{"fold":["b3"],"as":["s","y"]}],"mark":{"type":"line","color":"#d0242b","strokeWidth":1.5}},
{"data":{"name":"xrd"},"transform":[{"fold":["b6"],"as":["s","y"]}],"mark":{"type":"line","color":"#14147a","strokeWidth":1.5}},
{"data":{"name":"xrd"},"transform":[{"fold":["b9"],"as":["s","y"]}],"mark":{"type":"line","color":"#3f7b76","strokeWidth":1.5}},
{"data":{"name":"xha"},"mark":{"type":"line","color":"black","strokeWidth":1.5}},
{"data":{"name":"lab"},"transform":[{"filter":"datum.p==='b' && datum.k==='d'"}],"mark":{"type":"text","fontSize":30,"align":"center","baseline":"alphabetic"},"encoding":{"text":{"field":"t"},"color":{"field":"t","type":"nominal","scale":{"domain":["30 days","60 days","90 days"],"range":["#c8202a","#2424f0","#3f7b76"]},"legend":null}}},
{"data":{"name":"lab"},"transform":[{"filter":"datum.p==='b' && datum.k==='L'"}],"mark":{"type":"text","fontSize":37,"align":"left","baseline":"alphabetic","color":"black"},"encoding":{"text":{"field":"t"}}},
{"data":{"name":"lab"},"transform":[{"filter":"datum.p==='b' && datum.k==='s2'"}],"mark":{"type":"text","fontSize":18,"align":"left","baseline":"alphabetic","color":"black"},"encoding":{"text":{"field":"t"}}}
]},
{"width":479,"height":350,
"encoding":{
"x":{"field":"x","type":"quantitative","scale":{"domain":[250,4250],"nice":false,"zero":false},"axis":{"title":"Wavenumber(cm⁻¹)","values":[250,500,750,1000,1250,1500,1750,2000,2250,2500,2750,3000,3250,3500,3750,4000,4250],"labelExpr":"datum.value % 500 === 0 ? datum.label : ''","format":"d","tickSize":{"condition":{"test":"datum.value % 500 === 0","value":8},"value":5},"tickWidth":3,"domainWidth":3,"labelFontSize":22,"labelPadding":2,"labelOverlap":false,"labelFlush":false,"titleFontSize":28,"titlePadding":11}},
"y":{"field":"y","type":"quantitative","scale":{"domain":[0,350],"nice":false,"zero":false},"axis":{"title":"Transmittance (a.u.)","ticks":false,"labels":false,"domain":false,"titleFontSize":29,"titlePadding":18,"titleY":161}}},
"layer":[
{"data":{"name":"fc3"},"mark":{"type":"line","color":"#e03030","strokeWidth":1.2}},
{"data":{"name":"ftir"},"transform":[{"fold":["c6"],"as":["s","y"]}],"mark":{"type":"line","color":"#3535ff","strokeWidth":1.2}},
{"data":{"name":"ftir"},"transform":[{"fold":["c9"],"as":["s","y"]}],"mark":{"type":"line","color":"#3a8a2e","strokeWidth":1.2}},
{"data":{"name":"fha"},"mark":{"type":"line","color":"black","strokeWidth":1.2}},
{"data":{"name":"ann"},"transform":[{"filter":"datum.p==='c' && datum.k==='dash'"}],"mark":{"type":"rule","color":"#222","strokeWidth":1.2,"strokeDash":[4,3]},"encoding":{"y2":{"field":"y2"}}},
{"data":{"name":"ann"},"transform":[{"filter":"datum.p==='c' && datum.k==='arr'"}],"mark":{"type":"rule","color":"black","strokeWidth":1.5},"encoding":{"y2":{"field":"y2"}}},
{"data":{"name":"ann"},"transform":[{"filter":"datum.p==='c' && datum.k==='head'"}],"mark":{"type":"point","shape":"triangle-up","filled":true,"size":45,"color":"black","opacity":1}},
{"data":{"name":"lab"},"transform":[{"filter":"datum.p==='c' && datum.k==='d'"}],"mark":{"type":"text","fontSize":27,"align":"center","baseline":"alphabetic"},"encoding":{"text":{"field":"t"},"color":{"field":"t","type":"nominal","scale":{"domain":["30 days","60 days","90 days"],"range":["#d42a2a","#2b2bff","#3e7a22"]},"legend":null}}},
{"data":{"name":"lab"},"transform":[{"filter":"datum.p==='c' && datum.k==='m'"}],"mark":{"type":"text","fontSize":20,"align":"center","baseline":"alphabetic","color":"black"},"encoding":{"text":{"field":"t"}}},
{"data":{"name":"lab"},"transform":[{"filter":"datum.p==='c' && datum.k==='h'"}],"mark":{"type":"text","fontSize":22,"align":"center","baseline":"alphabetic","color":"black"},"encoding":{"text":{"field":"t"}}},
{"data":{"name":"lab"},"transform":[{"filter":"datum.p==='c' && datum.k==='L2'"}],"mark":{"type":"text","fontSize":44,"align":"center","baseline":"alphabetic","color":"black"},"encoding":{"text":{"field":"t"}}}
]},
{"width":475,"height":350,
"encoding":{
"x":{"field":"x","type":"quantitative","scale":{"domain":[206,4196],"nice":false,"zero":false},"axis":{"title":"Wavenumber(cm⁻¹)","values":[250,500,750,1000,1250,1500,1750,2000,2250,2500,2750,3000,3250,3500,3750,4000],"labelExpr":"datum.value % 500 === 0 ? datum.label : ''","format":"d","tickSize":{"condition":{"test":"datum.value % 500 === 0","value":8},"value":5},"tickWidth":3,"domainWidth":3,"labelFontSize":22,"labelPadding":2,"labelOverlap":false,"labelFlush":false,"titleFontSize":28,"titlePadding":11}},
"y":{"field":"y","type":"quantitative","scale":{"domain":[4,356],"nice":false,"zero":false},"axis":{"title":"Transmittance (a.u.)","ticks":false,"labels":false,"domain":false,"titleFontSize":29,"titlePadding":23,"titleY":161}}},
"layer":[
{"data":{"name":"ftir"},"transform":[{"fold":["d3"],"as":["s","y"]}],"mark":{"type":"line","color":"#e03030","strokeWidth":1.2}},
{"data":{"name":"ftir"},"transform":[{"fold":["d6"],"as":["s","y"]}],"mark":{"type":"line","color":"#3535ff","strokeWidth":1.2}},
{"data":{"name":"ftir"},"transform":[{"fold":["d9"],"as":["s","y"]}],"mark":{"type":"line","color":"#3a8a2e","strokeWidth":1.2}},
{"data":{"name":"fha"},"mark":{"type":"line","color":"black","strokeWidth":1.2}},
{"data":{"name":"ann"},"transform":[{"filter":"datum.p==='d' && datum.k==='dash'"}],"mark":{"type":"rule","color":"#222","strokeWidth":1.2,"strokeDash":[4,3]},"encoding":{"y2":{"field":"y2"}}},
{"data":{"name":"lab"},"transform":[{"filter":"datum.p==='d' && datum.k==='d'"}],"mark":{"type":"text","fontSize":27,"align":"center","baseline":"alphabetic"},"encoding":{"text":{"field":"t"},"color":{"field":"t","type":"nominal","scale":{"domain":["30 days","60 days","90 days"],"range":["#d42a2a","#2b2bff","#3e7a22"]},"legend":null}}},
{"data":{"name":"lab"},"transform":[{"filter":"datum.p==='d' && datum.k==='m'"}],"mark":{"type":"text","fontSize":20,"align":"center","baseline":"alphabetic","color":"black"},"encoding":{"text":{"field":"t"}}},
{"data":{"name":"lab"},"transform":[{"filter":"datum.p==='d' && datum.k==='h'"}],"mark":{"type":"text","fontSize":22,"align":"center","baseline":"alphabetic","color":"black"},"encoding":{"text":{"field":"t"}}},
{"data":{"name":"lab"},"transform":[{"filter":"datum.p==='d' && datum.k==='L2'"}],"mark":{"type":"text","fontSize":44,"align":"center","baseline":"alphabetic","color":"black"},"encoding":{"text":{"field":"t"}}}
]}
]
}
